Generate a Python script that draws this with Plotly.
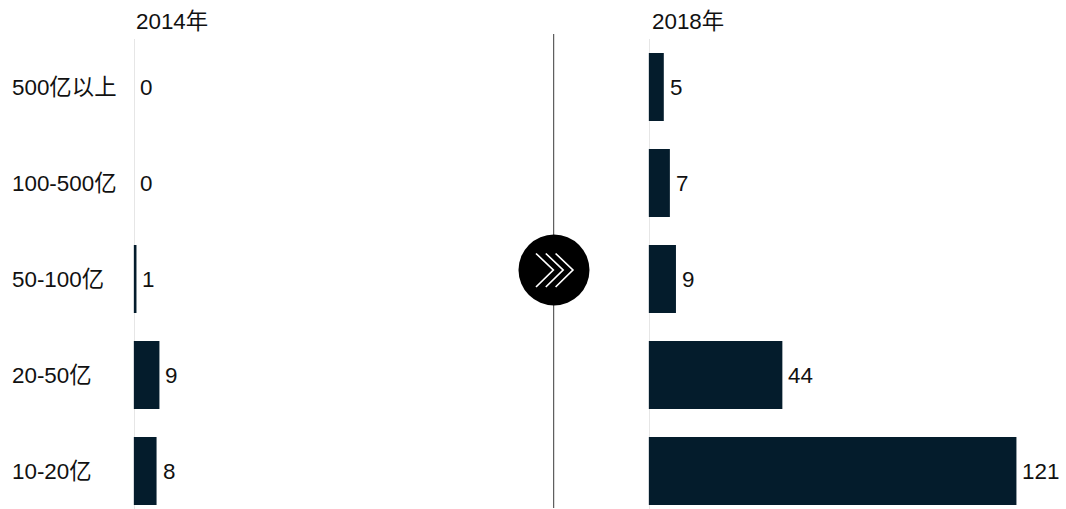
import plotly.graph_objects as go

W, H = 1066, 509
FONT = "Liberation Sans, Arial, Noto Sans CJK SC"
INK = "#111111"
BAR = "#041c2c"
TEXT_SIZE = 22.4

categories = ["500亿以上", "100-500亿", "50-100亿", "20-50亿", "10-20亿"]
values_2014 = [0, 0, 1, 9, 8]
values_2018 = [5, 7, 9, 44, 121]
panel_titles = ["2014年", "2018年"]

fig = go.Figure()
fig.add_bar(x=values_2014, y=categories, orientation="h", marker=dict(color=BAR, line_width=0),
            width=0.708, xaxis="x", yaxis="y", hoverinfo="skip")
fig.add_bar(x=values_2018, y=categories, orientation="h", marker=dict(color=BAR, line_width=0),
            width=0.708, xaxis="x2", yaxis="y2", hoverinfo="skip")

annotations = []
for axis, vals in (("x", values_2014), ("x2", values_2018)):
    yref = "y" if axis == "x" else "y2"
    for c, v in zip(categories, vals):
        annotations.append(dict(x=v, y=c, xref=axis, yref=yref, text=str(v), showarrow=False,
                                xanchor="left", yanchor="middle", xshift=5, yshift=-1, borderpad=0,
                                font=dict(family=FONT, size=TEXT_SIZE, color=INK)))
for c in categories:
    annotations.append(dict(x=11 / W, y=c, xref="paper", yref="y", text=c, showarrow=False,
                            xanchor="left", yanchor="middle", yshift=-1, borderpad=0,
                            font=dict(family=FONT, size=TEXT_SIZE, color=INK)))
for title, px in zip(panel_titles, (135, 651)):
    annotations.append(dict(x=px / W, y=1 - 21.5 / H, xref="paper", yref="paper", text=title,
                            showarrow=False, xanchor="left", yanchor="middle", borderpad=0,
                            font=dict(family=FONT, size=TEXT_SIZE, color=INK)))


def px_x(v):
    return v / W


def px_y(v):
    return 1 - v / H


# Centre divider, the black disc and three white chevrons
shapes = [
    dict(type="line", xref="paper", yref="paper", x0=px_x(553.7), x1=px_x(553.7),
         y0=px_y(34), y1=px_y(508), line=dict(color="#3a3a3a", width=1)),
    dict(type="circle", xref="paper", yref="paper", x0=px_x(518.5), x1=px_x(589.5),
         y0=px_y(305.5), y1=px_y(234.5), fillcolor="#000000", line_width=0),
]
for off in (0, 9.8, 19.6):
    path = (f"M {px_x(536 + off)} {px_y(253.5)} L {px_x(553.3 + off)} {px_y(270)} "
            f"L {px_x(536 + off)} {px_y(287)}")
    shapes.append(dict(type="path", xref="paper", yref="paper", path=path,
                       line=dict(color="#ffffff", width=1.7)))

y_axis = dict(type="category", categoryorder="array", categoryarray=categories,
              range=[4.396, -0.5], showgrid=False, zeroline=False, showticklabels=False,
              ticks="", showline=True, linecolor="#e6e6e6", linewidth=1,
              layer="below traces", domain=[0, 1 - 39 / H])

fig.update_layout(
    width=W, height=H, margin=dict(l=0, r=0, t=0, b=0, pad=0),
    paper_bgcolor="white", plot_bgcolor="white", showlegend=False,
    xaxis=dict(domain=[133.6 / W, 500 / W], range=[0, 366.4 / 2.87], visible=False),
    xaxis2=dict(domain=[648.6 / W, 1060 / W], range=[0, 411.4 / 3.04], visible=False),
    yaxis=dict(y_axis, anchor="free", position=133.6 / W),
    yaxis2=dict(y_axis, anchor="free", position=648.6 / W),
    annotations=annotations, shapes=shapes,
)

fig.write_html("out.html", config=dict(displayModeBar=False))
